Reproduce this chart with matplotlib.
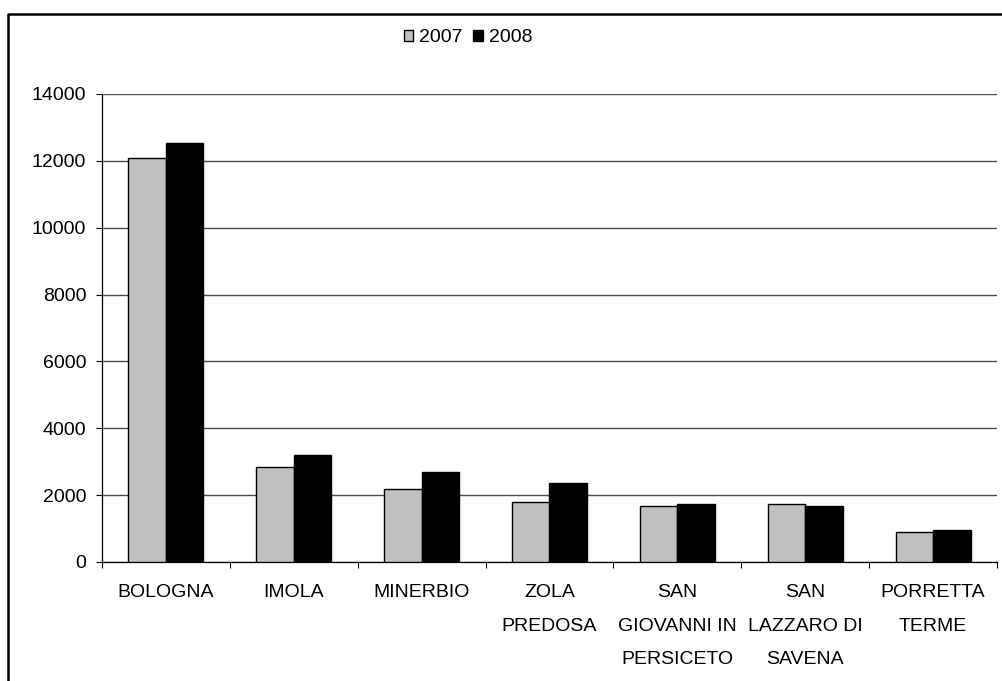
import matplotlib
matplotlib.use("Agg")
import matplotlib.pyplot as plt
import matplotlib.patches as mpatches
from matplotlib.lines import Line2D
import numpy as np

# Values per municipality
comuni = ["BOLOGNA", "IMOLA", "MINERBIO", "ZOLA\nPREDOSA",
          "SAN\nGIOVANNI IN\nPERSICETO", "SAN\nLAZZARO DI\nSAVENA",
          "PORRETTA\nTERME"]
anni = ["2007", "2008"]
val_2007 = [12080, 2850, 2180, 1795, 1680, 1735, 900]
val_2008 = [12530, 3200, 2700, 2370, 1745, 1687, 970]
y_ticks = [0, 2000, 4000, 6000, 8000, 10000, 12000, 14000]

plt.rcParams["font.family"] = ["Liberation Sans", "DejaVu Sans"]
FS = 14

W, H = 1003, 681
fig = plt.figure(figsize=(W / 100, H / 100), dpi=100)
ax = fig.add_axes([102 / W, 1 - 562 / H, (997 - 102) / W, (562 - 94) / H])

x = np.arange(len(comuni))
bw = 0.293
ax.bar(x - bw / 2, val_2007, width=bw, color="#C0C0C0", edgecolor="black",
       linewidth=1.0, zorder=3)
ax.bar(x + bw / 2, val_2008, width=bw, color="black", edgecolor="black",
       linewidth=1.0, zorder=3)

ax.set_xlim(-0.5, len(comuni) - 0.5)
ax.set_ylim(0, 14000)
ax.set_yticks(y_ticks)
ax.set_yticklabels([str(v) for v in y_ticks], fontsize=FS)
ax.yaxis.grid(True, color="#4d4d4d", linewidth=1.0, zorder=0)
ax.set_axisbelow(True)

ax.set_xticks(x)
ax.set_xticklabels(comuni, fontsize=FS, va="top")
for lbl in ax.get_xticklabels():
    lbl.set_linespacing(2.27)
ax.set_xticks(np.arange(-0.5, len(comuni)), minor=True)
ax.tick_params(axis="x", which="major", length=0, pad=16)
ax.tick_params(axis="x", which="minor", length=4.3, width=0.8, direction="out")
ax.tick_params(axis="y", length=4.3, width=0.8, pad=7, direction="out")

for s in ("top", "right"):
    ax.spines[s].set_visible(False)
for s in ("left", "bottom"):
    ax.spines[s].set_linewidth(0.9)

handles = [mpatches.Patch(facecolor="#C0C0C0", edgecolor="black", linewidth=1.0),
           mpatches.Patch(facecolor="black", edgecolor="black", linewidth=1.0)]
fig.legend(handles, anni, loc="center", bbox_to_anchor=(468 / W, 1 - 38 / H),
           ncol=2, frameon=False, fontsize=FS, handlelength=0.48,
           handleheight=0.48, handletextpad=0.3, columnspacing=0.55,
           borderpad=0)

# outer chart frame, open on the right and bottom
fig.add_artist(Line2D([8.5 / W, 8.5 / W, 1.0], [0.0, 1 - 13.5 / H, 1 - 13.5 / H],
                      transform=fig.transFigure, color="black", linewidth=1.8))

fig.savefig("out.png", dpi=100)
